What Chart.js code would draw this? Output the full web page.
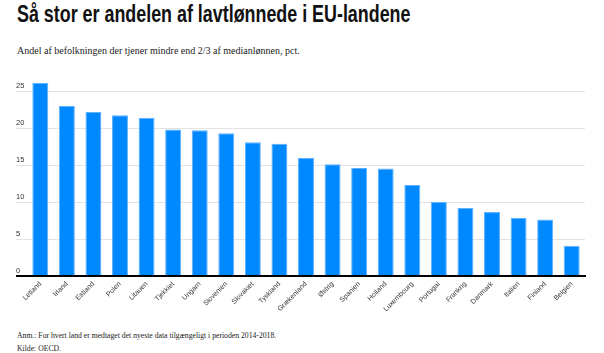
<!DOCTYPE html>
<html>
<head>
<meta charset="utf-8">
<script src="https://cdn.jsdelivr.net/npm/chart.js@4.4.0/dist/chart.umd.min.js"></script>
<style>
  body { margin: 0; background: #fff; }
  #wrap { position: relative; width: 604px; height: 353px; overflow: hidden; }
  .title { position: absolute; left: 17px; top: 0px; font-family: "Liberation Sans", sans-serif; font-weight: bold; font-size: 24px; line-height: 27px; color: #111; white-space: nowrap; transform: scaleX(0.745); transform-origin: 0 0; }
  .sub { position: absolute; left: 17px; top: 44px; font-family: "Liberation Serif", serif; font-size: 10px; line-height: 13px; color: #222; white-space: nowrap; }
  .note { position: absolute; left: 17px; top: 330px; font-family: "Liberation Serif", serif; font-size: 7.7px; line-height: 12.5px; color: #222; white-space: nowrap; }
  #box { position: absolute; left: 0; top: 60px; width: 604px; height: 260px; }
</style>
</head>
<body>
<div id="wrap">
  <div class="title">Så stor er andelen af lavtlønnede i EU-landene</div>
  <div class="sub">Andel af befolkningen der tjener mindre end 2/3 af medianlønnen, pct.</div>
  <div id="box"><canvas id="bar-chart"></canvas></div>
  <div class="note">Anm.: For hvert land er medtaget det nyeste data tilgængeligt i perioden 2014-2018.<br>Kilde: OECD.</div>
</div>
<script>
var lande = ["Letland", "Irland", "Estland", "Polen", "Litauen", "Tjekkiet", "Ungarn", "Slovenien", "Slovakiet", "Tyskland", "Grækenland",
	"Østrig", "Spanien", "Holland", "Luxembourg", "Portugal", "Frankrig", "Danmark", "Italien", "Finland", "Belgien"];
var andel = [26.1, 23.0, 22.2, 21.75, 21.4, 19.8, 19.7, 19.3, 18.1, 17.9, 15.95,
	15.1, 14.6, 14.55, 12.3, 10.0, 9.2, 8.65, 7.85, 7.65, 4.1];
var yTicks = [0, 5, 10, 15, 20, 25];

new Chart(document.getElementById("bar-chart"), {
	type: 'bar',
	data: {
		labels: lande,
		datasets: [{
			label: "Andel",
			backgroundColor: "#0088ff",
			borderColor: "#5fb0ff",
			borderWidth: 1,
			borderSkipped: 'bottom',
			barPercentage: 0.6,
			categoryPercentage: 1.0,
			data: andel
		}]
	},
	options: {
		responsive: true,
		maintainAspectRatio: false,
		animation: false,
		layout: { padding: { left: 16, right: 19, top: 9, bottom: 0 } },
		plugins: {
			legend: { display: false },
			tooltip: { enabled: false }
		},
		scales: {
			x: {
				z: 1,
				grid: { display: false, drawTicks: false },
				border: { display: true, color: '#000', width: 2 },
				ticks: {
					maxRotation: 45,
					minRotation: 45,
					padding: 4,
					color: '#333',
					font: { family: 'Liberation Sans', size: 7 }
				},
				afterFit: function(s) { s.height = 44; }
			},
			y: {
				min: 0,
				max: 28,
				afterBuildTicks: function(s) {
					s.ticks = yTicks.map(function(v) { return { value: v }; });
				},
				border: { display: false },
				grid: {
					color: function(c) { return c.tick && c.tick.value === 0 ? '#000' : '#e3e3e3'; },
					lineWidth: function(c) { return c.tick && c.tick.value === 0 ? 2 : 1; },
					tickLength: 11
				},
				ticks: {
					crossAlign: 'far',
					padding: 0,
					labelOffset: -5,
					color: '#333',
					font: { family: 'Liberation Sans', size: 7.5 }
				},
				afterFit: function(s) { s.width = 11; }
			}
		}
	}
});
</script>
</body>
</html>
